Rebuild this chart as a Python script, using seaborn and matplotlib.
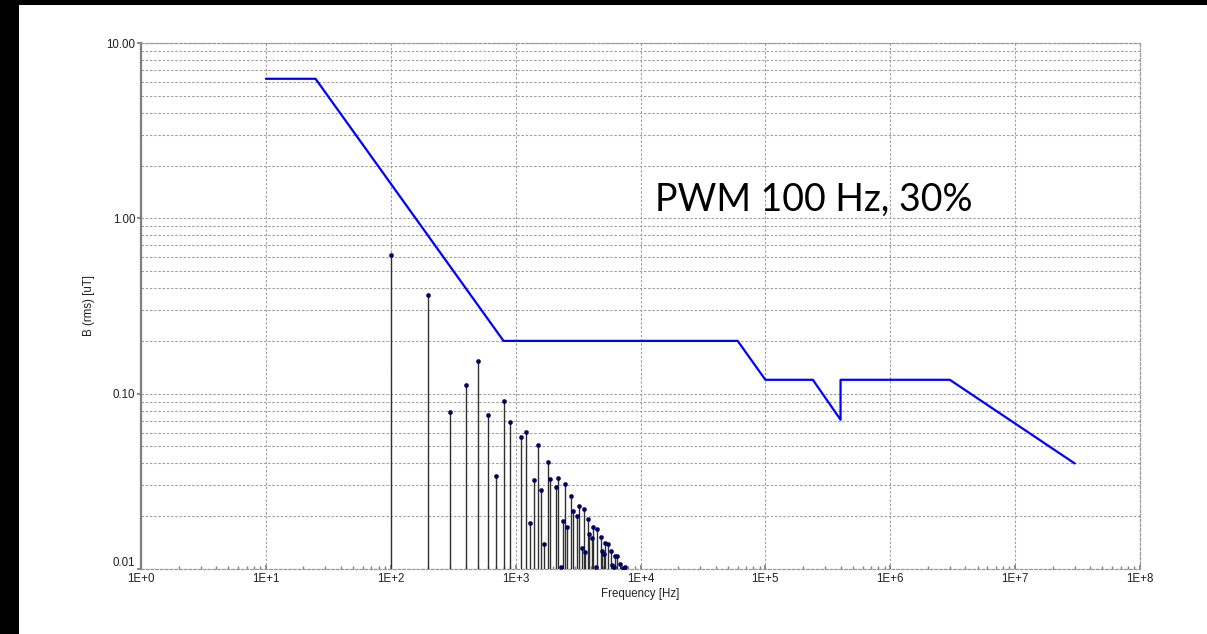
import matplotlib
matplotlib.use("Agg")
import matplotlib.pyplot as plt
import matplotlib.ticker as mticker
from matplotlib.patches import Rectangle
import seaborn as sns
import pandas as pd

# ---- data ----
# limit line (envelope) points
limit_freq = [10, 25, 800, 60000, 100000, 240000, 400000, 400000, 3e6, 3e7]
limit_b = [6.25, 6.25, 0.2, 0.2, 0.12, 0.12, 0.071, 0.12, 0.12, 0.04]

# harmonic spectrum of the PWM signal (frequency in Hz, B rms in uT)
harm_freq = [100, 200, 300, 400, 500, 600, 700, 800, 900,
             1100, 1200, 1300, 1400, 1500, 1600, 1700, 1800, 1900,
             2100, 2200, 2300, 2400, 2500, 2600, 2800, 2900,
             3100, 3200, 3400, 3500, 3600, 3800, 3900,
             4100, 4200, 4400, 4500, 4800, 4900,
             5100, 5200, 5500, 5800, 5900,
             6100, 6200, 6500, 6800, 7200, 7500]
harm_b = [0.620, 0.364, 0.0789, 0.1126, 0.1532, 0.0751, 0.0338, 0.0911, 0.0689,
          0.0563, 0.0607, 0.0182, 0.0322, 0.0511, 0.0282, 0.0139, 0.0405, 0.0326,
          0.0295, 0.0331, 0.0103, 0.0188, 0.0306, 0.0173, 0.0260, 0.0214,
          0.0200, 0.0228, 0.0132, 0.0219, 0.0125, 0.0192, 0.0159,
          0.0151, 0.0173, 0.0102, 0.0170, 0.0152, 0.0126,
          0.0122, 0.0140, 0.0139, 0.0126, 0.0105,
          0.0102, 0.0118, 0.0118, 0.0107, 0.0101, 0.0102]

x_ticks = [1e0, 1e1, 1e2, 1e3, 1e4, 1e5, 1e6, 1e7, 1e8]
x_tick_labels = ["1E+0", "1E+1", "1E+2", "1E+3", "1E+4", "1E+5", "1E+6", "1E+7", "1E+8"]
y_ticks = [0.01, 0.1, 1, 10]
y_tick_labels = ["0.01", "0.10", "1.00", "10.00"]

annotation = "PWM 100 Hz, 30%"
x_label = "Frequency [Hz]"
y_label = "B (rms) [uT]"

# ---- figure ----
sns.set_theme(style="white")
plt.rcParams['font.family'] = ['Liberation Sans', 'DejaVu Sans']

W, H = 1207, 634
fig = plt.figure(figsize=(W / 100, H / 100), dpi=100)
ax = fig.add_axes([141 / W, 1 - 569 / H, (1140 - 141) / W, (569 - 43) / H])

ax.set_xscale("log")
ax.set_yscale("log")
ax.set_xlim(1e0, 1e8)
ax.set_ylim(0.01, 10)

grid_kw = dict(color="#a0a0a0", linewidth=0.8, linestyle=(0, (2.2, 1.6)))
ax.grid(True, which="major", axis="both", **grid_kw)
ax.grid(True, which="minor", axis="y", **grid_kw)
ax.grid(False, which="minor", axis="x")

# stems
ax.vlines(harm_freq, 0.01, harm_b, color="#303030", linewidth=1.0, zorder=3)
df_h = pd.DataFrame({"f": harm_freq, "b": harm_b})
sns.scatterplot(data=df_h, x="f", y="b", ax=ax, color="#000070", s=9,
                edgecolor="#000040", linewidth=0.3, zorder=4, legend=False)

# limit line
df_l = pd.DataFrame({"f": limit_freq, "b": limit_b})
sns.lineplot(data=df_l, x="f", y="b", ax=ax, sort=False, estimator=None,
             color="#0000ff", linewidth=1.6, zorder=5, legend=False)

ax.xaxis.set_major_locator(mticker.FixedLocator(x_ticks))
ax.xaxis.set_major_formatter(mticker.FixedFormatter(x_tick_labels))
ax.xaxis.set_minor_locator(mticker.LogLocator(base=10, subs=range(2, 10), numticks=100))
ax.xaxis.set_minor_formatter(mticker.NullFormatter())
ax.yaxis.set_major_locator(mticker.FixedLocator(y_ticks))
ax.yaxis.set_major_formatter(mticker.FixedFormatter(y_tick_labels))
ax.yaxis.set_minor_locator(mticker.LogLocator(base=10, subs=range(2, 10), numticks=100))
ax.yaxis.set_minor_formatter(mticker.NullFormatter())

ax.tick_params(axis="x", which="major", labelsize=8.3, length=3, pad=3, color="#808080",
               direction="in", bottom=True)
ax.tick_params(axis="x", which="minor", length=2, direction="in", color="#808080", bottom=True)
ax.tick_params(axis="y", which="major", labelsize=8.3, length=3, pad=1, color="#808080",
               direction="out", left=True)
ax.tick_params(axis="y", which="minor", left=False)
for lbl in ax.get_xticklabels() + ax.get_yticklabels():
    lbl.set_color("#202020")
# nudge the bottom y label up slightly so it does not collide with "1E+0"
ax.get_yticklabels()[0].set_verticalalignment("bottom")

for side in ["top", "right", "bottom"]:
    ax.spines[side].set_color("#9a9a9a")
    ax.spines[side].set_linewidth(0.9)
    ax.spines[side].set_linestyle((0, (2.2, 1.6)))
ax.spines["left"].set_color("#7f7f7f")
ax.spines["left"].set_linewidth(1.6)

ax.set_xlabel(x_label, fontsize=8.3, labelpad=2, color="#202020")
ax.set_ylabel(y_label, fontsize=8.3, labelpad=8, color="#202020")

ax.text(655 / W, 1 - 200 / H, annotation, transform=fig.transFigure,
        fontsize=27, family=["Lato", "DejaVu Sans"], color="#000000", va="center", ha="left")

# black frame strips (left and top)
fig.patches.append(Rectangle((0, 0), 19 / W, 1, transform=fig.transFigure,
                             facecolor="black", edgecolor="none", zorder=10))
fig.patches.append(Rectangle((0, 1 - 5 / H), 1, 5 / H, transform=fig.transFigure,
                             facecolor="black", edgecolor="none", zorder=10))

fig.savefig("out.png", dpi=100, facecolor="white")
